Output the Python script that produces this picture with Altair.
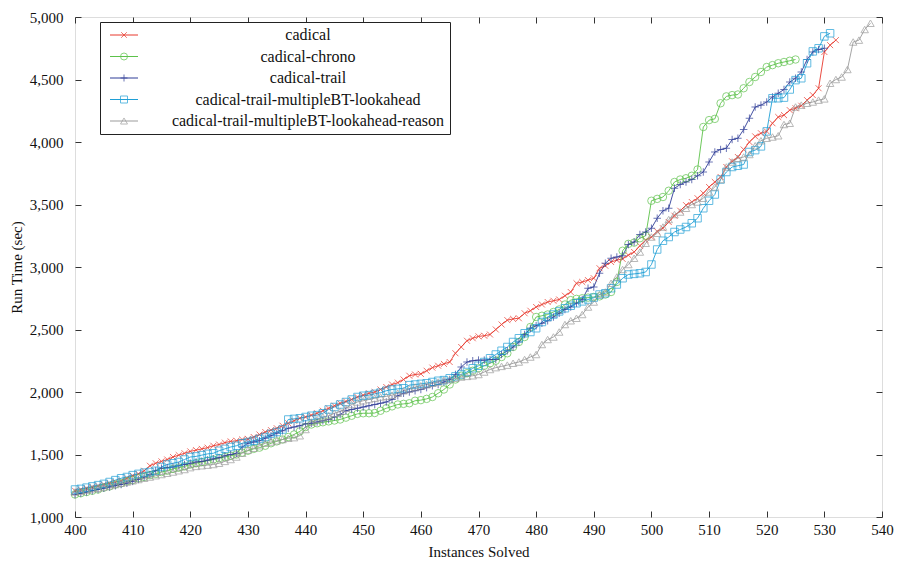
import altair as alt
import pandas as pd

X_START = 400

series_names = [
    "cadical",
    "cadical-chrono",
    "cadical-trail",
    "cadical-trail-multipleBT-lookahead",
    "cadical-trail-multipleBT-lookahead-reason",
]
colors = ["#e8382c", "#5cc24a", "#2e3c97", "#1f9fd6", "#9b9b9b"]
shapes = [
    "M-0.8,-0.8L0.8,0.8M-0.8,0.8L0.8,-0.8",
    "circle",
    "M-1,0L1,0M0,-1L0,1",
    "square",
    "triangle-up",
]

cadical = [
    1210, 1220, 1230, 1240, 1250, 1260, 1270, 1280, 1290, 1310,
    1330, 1345, 1370, 1410, 1430, 1445, 1460, 1480, 1495, 1510,
    1525, 1535, 1545, 1555, 1570, 1580, 1595, 1605, 1610, 1620,
    1625, 1640, 1660, 1680, 1695, 1710, 1730, 1750, 1770, 1790,
    1800, 1815, 1830, 1850, 1870, 1890, 1910, 1925, 1940, 1960,
    1975, 1990, 2000, 2020, 2040, 2060, 2075, 2100, 2130, 2140,
    2145, 2170, 2195, 2210, 2225, 2240, 2310, 2360, 2410, 2430,
    2445, 2450, 2460, 2500, 2540, 2575, 2585, 2590, 2630, 2650,
    2680, 2700, 2720, 2730, 2740, 2770, 2800, 2870, 2880, 2895,
    2910, 2990, 3010, 3040, 3055, 3065, 3095, 3120, 3170, 3215,
    3240, 3285, 3310, 3360, 3410, 3450, 3495, 3520, 3550, 3590,
    3640, 3680, 3720, 3800, 3845, 3880, 3940, 4000, 4045, 4070,
    4085, 4150, 4200, 4215, 4255, 4270, 4290, 4335, 4375, 4430,
    4720, 4775, 4815,
]

chrono = [
    1180, 1190, 1200, 1210, 1220, 1235, 1245, 1260, 1270, 1285,
    1295, 1310, 1320, 1335, 1345, 1360, 1370, 1385, 1395, 1405,
    1420, 1430, 1440, 1450, 1460, 1470, 1480, 1490, 1500, 1515,
    1530, 1545, 1555, 1570, 1590, 1605, 1620, 1640, 1660, 1685,
    1720, 1740, 1750, 1758, 1765, 1772, 1780, 1795, 1810, 1825,
    1830, 1830, 1832, 1850, 1870, 1885, 1900, 1905, 1910, 1930,
    1935, 1945, 1960, 1990, 2020, 2060, 2100, 2130, 2150, 2170,
    2190, 2210, 2230, 2250, 2280, 2310, 2360, 2400, 2440, 2520,
    2600, 2610, 2620, 2640, 2660, 2700, 2735, 2745, 2750, 2755,
    2760, 2765, 2780, 2800, 2880, 3130, 3185, 3195, 3230, 3250,
    3530, 3545, 3560, 3610, 3680, 3700, 3710, 3730, 3780, 4120,
    4175, 4185, 4310, 4365, 4375, 4380, 4430, 4480, 4520, 4560,
    4600, 4615, 4630, 4640, 4650, 4660,
]

trail = [
    1180, 1190, 1200, 1210, 1220, 1230, 1240, 1250, 1260, 1270,
    1285, 1300, 1320, 1340, 1370, 1390, 1395, 1400, 1410, 1420,
    1430, 1440, 1445, 1455, 1465, 1475, 1490, 1500, 1510, 1560,
    1590, 1600, 1610, 1630, 1650, 1670, 1690, 1710, 1720, 1730,
    1745, 1750, 1760, 1770, 1780, 1800, 1820, 1850, 1860, 1870,
    1880, 1890, 1900, 1910, 1920, 1940, 1970, 1990, 2000, 2010,
    2020, 2035, 2050, 2060, 2080, 2100, 2140, 2200, 2240, 2250,
    2255, 2255, 2260, 2260, 2300, 2330, 2360, 2400, 2460, 2510,
    2530, 2550, 2570, 2600, 2630, 2660, 2680, 2710, 2740, 2830,
    2840, 2950, 3030, 3070, 3080, 3090, 3180, 3200, 3260, 3280,
    3310, 3390, 3450, 3470, 3630, 3660, 3680, 3700, 3730, 3760,
    3840, 3920, 3940, 3950, 4020, 4030, 4100, 4190, 4280, 4295,
    4320, 4360, 4390, 4420, 4480, 4510, 4560, 4660, 4720, 4740,
    4750,
]

lookahead = [
    1220, 1225, 1235, 1245, 1255, 1265, 1280, 1295, 1310, 1320,
    1335, 1345, 1355, 1360, 1370, 1400, 1420, 1430, 1440, 1460,
    1480, 1485, 1495, 1505, 1510, 1530, 1545, 1560, 1570, 1590,
    1600, 1610, 1625, 1640, 1665, 1680, 1700, 1780, 1785, 1790,
    1800, 1810, 1815, 1830, 1860, 1880, 1900, 1920, 1940, 1960,
    1970, 1975, 1985, 1995, 2010, 2020, 2025, 2030, 2055, 2060,
    2065, 2070, 2080, 2090, 2095, 2110, 2125, 2140, 2160, 2190,
    2210, 2240, 2270, 2300, 2330, 2360, 2400, 2430, 2470, 2480,
    2510, 2560, 2600, 2620, 2645, 2670, 2690, 2710, 2725, 2740,
    2755, 2780, 2790, 2830, 2860, 2910, 2940, 2945, 2950, 2960,
    3020, 3140, 3210, 3240, 3280, 3300, 3320, 3350, 3390, 3470,
    3530, 3580, 3700, 3760, 3800, 3810, 3820, 3920, 3935, 3965,
    4085, 4350, 4350, 4355, 4420, 4495, 4510, 4630, 4725, 4750,
    4845, 4870,
]

reason = [
    1200, 1205, 1215, 1225, 1230, 1240, 1250, 1260, 1270, 1280,
    1290, 1300, 1310, 1320, 1330, 1340, 1350, 1360, 1370, 1380,
    1395, 1405, 1410, 1415, 1420, 1430, 1445, 1460, 1480, 1510,
    1535, 1550, 1570, 1590, 1600, 1610, 1620, 1630, 1635, 1650,
    1700, 1760, 1780, 1800, 1810, 1830, 1845, 1870, 1900, 1920,
    1930, 1940, 1950, 1960, 1965, 1975, 1990, 2010, 2025, 2040,
    2050, 2060, 2070, 2080, 2095, 2100, 2110, 2120, 2125, 2130,
    2140, 2160, 2180, 2195, 2205, 2215, 2230, 2240, 2260, 2280,
    2300, 2380, 2420, 2440, 2480, 2540, 2570, 2590, 2620, 2680,
    2720, 2780, 2800, 2870, 2920, 2980, 3020, 3070, 3120, 3190,
    3240, 3270, 3320, 3380, 3420, 3440, 3470, 3500, 3520, 3550,
    3600, 3640, 3700, 3800, 3840, 3870, 3880, 3900, 3970, 4010,
    4030, 4040, 4050, 4140, 4150, 4280, 4295, 4310, 4320, 4335,
    4345, 4470, 4500, 4520, 4580, 4800, 4815, 4900, 4950,
]

all_series = [cadical, chrono, trail, lookahead, reason]
x_ticks = list(range(400, 541, 10))
y_ticks = [1000, 1500, 2000, 2500, 3000, 3500, 4000, 4500, 5000]

rows = []
for name, vals in zip(series_names, all_series):
    for i, v in enumerate(vals):
        rows.append({"series": name, "series_m": name, "n": X_START + i, "t": v})
df = pd.DataFrame(rows)

FONT = "Liberation Serif"
xscale = alt.Scale(domain=[400, 540], nice=False, zero=False)
yscale = alt.Scale(domain=[1000, 5000], nice=False, zero=False)

base = alt.Chart(df)

LEG_X = 25
LEG_Y = 5
LEG_PAD = 5
ROW_PAD = 5.5
LEG_FS = 16
LABEL_OFF = 176

lines = base.mark_line(strokeWidth=0.9).encode(
    x=alt.X("n:Q", scale=xscale,
            axis=alt.Axis(title="Instances Solved", values=x_ticks, format="d",
                          ticks=False, tickSize=0, domain=False, grid=False,
                          labelFlush=False, labelOverlap=False,
                          labelPadding=5, titlePadding=7, labelFontSize=15,
                          titleFontSize=15, labelFont=FONT, titleFont=FONT,
                          titleFontWeight="normal", labelColor="#111", titleColor="#111")),
    y=alt.Y("t:Q", scale=yscale,
            axis=alt.Axis(title="Run Time (sec)", values=y_ticks, format=",d",
                          ticks=False, tickSize=0, domain=False, grid=False,
                          labelFlush=False, labelOverlap=False,
                          labelPadding=12, titlePadding=5, labelFontSize=15,
                          titleFontSize=15, labelFont=FONT, titleFont=FONT,
                          titleFontWeight="normal", labelColor="#111", titleColor="#111")),
    color=alt.Color("series:N", sort=series_names, scale=alt.Scale(range=colors),
                    legend=alt.Legend(orient="none", legendX=LEG_X, legendY=LEG_Y, title=None,
                                      symbolType="M-4,0L4,0", symbolSize=49,
                                      symbolOffset=11,
                                      symbolStrokeWidth=1, labelFont=FONT,
                                      labelFontSize=LEG_FS, labelColor="#111",
                                      labelAlign="center", labelOffset=LABEL_OFF,
                                      labelLimit=600,
                                      rowPadding=ROW_PAD, padding=LEG_PAD,
                                      strokeColor="#222", fillColor="white")),
    order=alt.Order("n:Q"),
)

tick_axis_bottom = alt.Axis(orient="bottom", offset=-6, values=x_ticks, labels=False,
                            ticks=True, tickSize=6, domain=False, grid=False,
                            title=None, tickColor="#333")
tick_axis_left = alt.Axis(orient="left", offset=-6, values=y_ticks, labels=False,
                          ticks=True, tickSize=6, domain=False, grid=False,
                          title=None, tickColor="#333")
tick_axis_top = alt.Axis(orient="top", offset=-6, values=x_ticks, labels=False,
                         ticks=True, tickSize=6, domain=False, grid=False,
                         title=None, tickColor="#333")
tick_axis_right = alt.Axis(orient="right", offset=-6, values=y_ticks, labels=False,
                           ticks=True, tickSize=6, domain=False, grid=False,
                           title=None, tickColor="#333")

marker_legend = alt.Legend(orient="none", legendX=LEG_X, legendY=LEG_Y, title=None,
                           symbolSize=49, symbolOffset=11,
                           symbolStrokeWidth=1, labelFont=FONT,
                           labelFontSize=LEG_FS, labelOpacity=0, labelLimit=600,
                           labelAlign="center", labelOffset=LABEL_OFF,
                           rowPadding=ROW_PAD, padding=LEG_PAD)

points = base.mark_point(filled=False, size=56, strokeWidth=1).encode(
    x=alt.X("n:Q", scale=xscale, axis=tick_axis_bottom),
    y=alt.Y("t:Q", scale=yscale, axis=tick_axis_left),
    shape=alt.Shape("series_m:N", scale=alt.Scale(domain=series_names, range=shapes),
                    legend=marker_legend),
    stroke=alt.Stroke("series_m:N", scale=alt.Scale(domain=series_names, range=colors),
                      legend=marker_legend),
)

frame_ticks = base.mark_point(opacity=0).encode(
    x=alt.X("n:Q", scale=xscale, axis=tick_axis_top),
    y=alt.Y("t:Q", scale=yscale, axis=tick_axis_right),
)

chart = alt.layer(lines, points, frame_ticks).resolve_axis(
    x="independent", y="independent"
).resolve_scale(
    x="shared", y="shared"
).resolve_legend(
    color="independent", shape="independent", stroke="independent"
).properties(
    width=807, height=500,
    autosize=alt.AutoSizeParams(type="none"),
    padding={"left": 67, "top": 9, "right": 12, "bottom": 48},
).configure_view(
    stroke="#333", strokeWidth=1
).configure(
    font=FONT, background="white"
)

chart.save("out.html", embed_options={"renderer": "svg", "actions": False})
